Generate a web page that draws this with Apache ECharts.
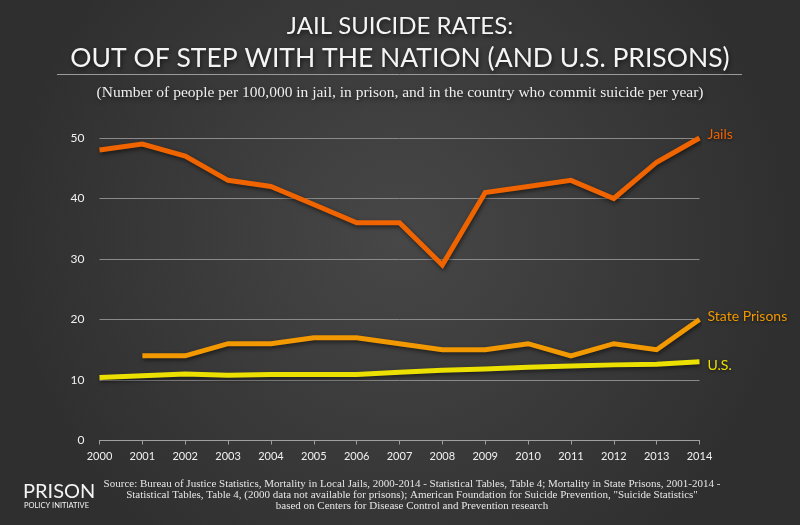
<!DOCTYPE html>
<html>
<head>
<meta charset="utf-8">
<script src="https://cdn.jsdelivr.net/npm/echarts@6/dist/echarts.min.js"></script>
<style>
html,body{margin:0;padding:0;width:800px;height:525px;overflow:hidden;}
#c{width:800px;height:525px;}
</style>
</head>
<body>
<div id="c"></div>
<script>
var years = ['2000','2001','2002','2003','2004','2005','2006','2007','2008','2009','2010','2011','2012','2013','2014'];
var jails = [48, 49, 47, 43, 42, 39, 36, 36, 29, 41, 42, 43, 40, 46, 50];
var statePrisons = [null, 14, 14, 16, 16, 17, 17, 16, 15, 15, 16, 14, 16, 15, 20];
var us = [10.4, 10.7, 11.0, 10.8, 10.9, 10.9, 10.9, 11.3, 11.6, 11.8, 12.1, 12.3, 12.5, 12.6, 13.0];
var yTicks = [0, 10, 20, 30, 40, 50];

var chart = echarts.init(document.getElementById('c'));
var shadow = {shadowColor:'rgba(0,0,0,0.55)', shadowBlur:4, shadowOffsetX:1, shadowOffsetY:2};
function mkSeries(name, data, color, dy){
  return {
    name: name, type: 'line', data: data, symbol: 'none', connectNulls: false,
    lineStyle: Object.assign({color: color, width: 5, join: 'miter'}, shadow),
    itemStyle: {color: color},
    endLabel: {show: true, formatter: name, color: color, fontFamily: 'Lato', fontSize: 14, distance: 8,
      offset: [0, dy],
      textShadowColor:'rgba(0,0,0,0.6)', textShadowBlur:3, textShadowOffsetY:1},
    z: 3
  };
}
var txtShadow = {textShadowColor:'rgba(0,0,0,0.6)', textShadowBlur:4, textShadowOffsetX:1, textShadowOffsetY:2};
chart.setOption({
  backgroundColor: {type:'radial', x:0.5, y:0.45, r:0.75, colorStops:[{offset:0,color:'#474747'},{offset:1,color:'#2f2f2f'}]},
  animation: false,
  title: [
    {text:'JAIL SUICIDE RATES:', left:'center', top:9, textStyle:Object.assign({color:'#f4f4f4', fontFamily:'Lato', fontWeight:'normal', fontSize:24}, txtShadow)},
    {text:'OUT OF STEP WITH THE NATION (AND U.S. PRISONS)', left:'center', top:40, textStyle:Object.assign({color:'#f4f4f4', fontFamily:'Lato', fontWeight:'normal', fontSize:26.5}, txtShadow)},
    {text:'(Number of people per 100,000 in jail, in prison, and in the country who commit suicide per year)', left:'center', top:80, textStyle:Object.assign({color:'#eeeeee', fontFamily:'Liberation Serif', fontWeight:'normal', fontSize:15.5}, txtShadow)},
    {text:'Source: Bureau of Justice Statistics, Mortality in Local Jails, 2000-2014 - Statistical Tables, Table 4; Mortality in State Prisons, 2001-2014 -\nStatistical Tables, Table 4, (2000 data not available for prisons); American Foundation for Suicide Prevention, "Suicide Statistics"\nbased on Centers for Disease Control and Prevention research',
     left:407, top:474, textAlign:'center', textStyle:{color:'#e6e6e6', fontFamily:'Liberation Serif', fontWeight:'normal', fontSize:11, lineHeight:11}},
    {text:'PRISON', left:18, top:477, textStyle:{color:'#f4f4f4', fontFamily:'Lato', fontWeight:'normal', fontSize:20}},
    {text:'POLICY INITIATIVE', left:19, top:497, textStyle:{color:'#f4f4f4', fontFamily:'Lato', fontWeight:'normal', fontSize:7.5}}
  ],
  graphic: [
    {type:'line', shape:{x1:57, y1:74.5, x2:742, y2:74.5}, style:{stroke:'#9a9a9a', lineWidth:1}}
  ],
  grid: {left:99.5, right:100.5, top:138, bottom:84.5},
  xAxis: {
    type:'category', data: years, boundaryGap:false,
    axisLine:{lineStyle:{color:'#a0a0a0', width:1}},
    axisTick:{show:true, length:4, lineStyle:{color:'#a0a0a0'}},
    axisLabel:{color:'#f0f0f0', fontFamily:'Lato', fontSize:11, margin:10}
  },
  yAxis: {
    type:'value', min:0, max:50, interval:10,
    axisLine:{show:false}, axisTick:{show:false},
    axisLabel:{color:'#f0f0f0', fontFamily:'Lato', fontSize:12, margin:15,
      formatter:function(v){return yTicks.indexOf(v)>=0 ? String(v) : '';}},
    splitLine:{lineStyle:{color:'#8a8a8a', width:1}}
  },
  series: [
    mkSeries('U.S.', us, '#ece000', 4),
    mkSeries('State Prisons', statePrisons, '#f29800', -3),
    mkSeries('Jails', jails, '#f06400', -4)
  ]
});
</script>
</body>
</html>
